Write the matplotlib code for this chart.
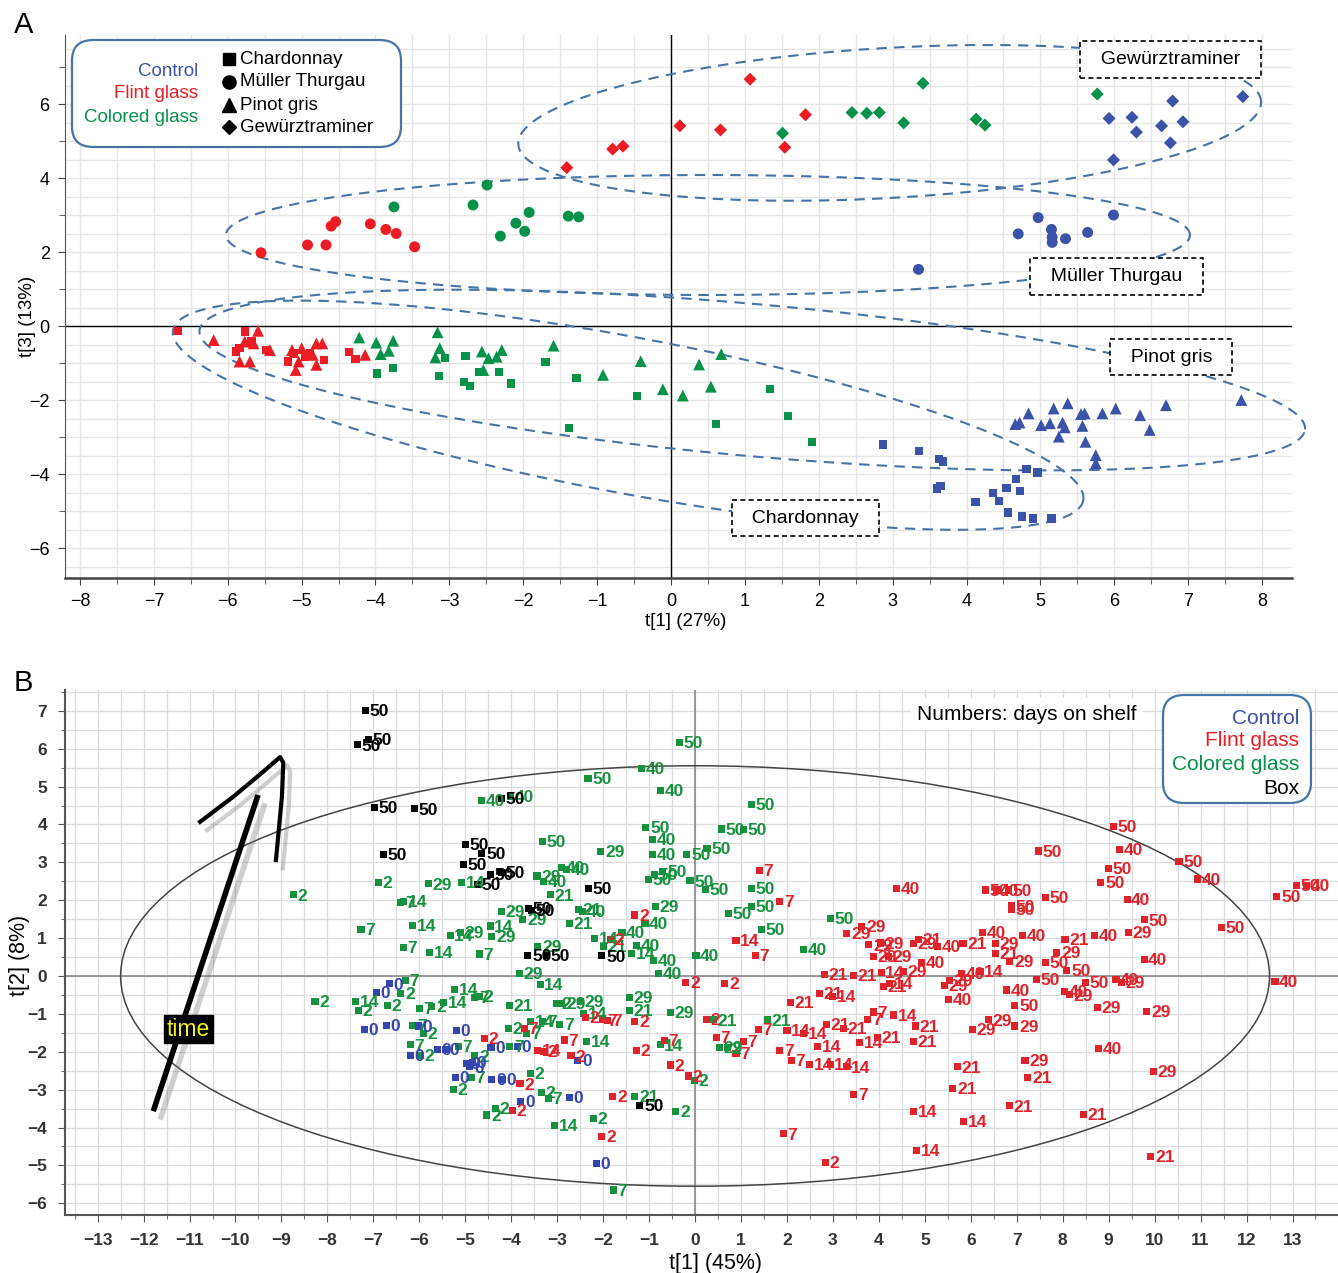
import numpy as np
import matplotlib
matplotlib.use('Agg')
import matplotlib.pyplot as plt
from matplotlib.patches import FancyBboxPatch, Ellipse
from matplotlib.lines import Line2D
from matplotlib.ticker import MultipleLocator
import matplotlib.patheffects as pe

plt.rcParams['font.family'] = ['Liberation Sans', 'DejaVu Sans']

BLUE = '#3a52a8'
RED = '#ec1c24'
GREEN = '#07924a'
ELL = '#4674a6'

# ---------------- Panel A data: (t[1], t[3]) per cultivar and treatment
chard_ctrl = [(2.87, -3.20), (3.36, -3.38), (3.63, -3.60), (3.68, -3.66), (3.60, -4.39), (3.65, -4.32),
              (4.12, -4.75), (4.36, -4.52), (4.44, -4.73), (4.56, -5.04), (4.54, -4.37), (4.67, -4.14),
              (4.72, -4.46), (4.75, -5.15), (4.81, -3.87), (4.90, -5.20), (4.96, -3.96), (5.15, -5.20)]
chard_flint = [(-6.67, -0.13), (-5.77, -0.15), (-5.89, -0.69), (-5.84, -0.60), (-5.68, -0.42), (-5.48, -0.65),
               (-5.18, -0.96), (-5.11, -0.74), (-4.95, -0.83), (-4.89, -0.74), (-4.70, -0.92), (-4.36, -0.71),
               (-4.27, -0.89)]
chard_col = [(-3.98, -1.28), (-3.76, -1.14), (-3.14, -1.35), (-3.06, -0.86), (-2.78, -0.81), (-2.80, -1.51),
             (-2.72, -1.62), (-2.59, -1.25), (-2.33, -1.25), (-2.17, -1.55), (-1.70, -0.98), (-1.28, -1.40),
             (-1.38, -2.75), (-0.46, -1.89), (0.61, -2.65), (1.34, -1.71), (1.58, -2.43), (1.91, -3.14)]

mt_ctrl = [(3.35, 1.53), (4.70, 2.49), (4.97, 2.93), (5.15, 2.61), (5.16, 2.40), (5.16, 2.26), (5.34, 2.36),
           (5.64, 2.53), (5.99, 3.00)]
mt_flint = [(-5.55, 1.98), (-4.92, 2.19), (-4.67, 2.19), (-4.60, 2.70), (-4.54, 2.82), (-4.07, 2.76),
            (-3.86, 2.61), (-3.72, 2.50), (-3.47, 2.14)]
mt_col = [(-3.75, 3.22), (-2.68, 3.27), (-2.49, 3.81), (-2.31, 2.43), (-2.10, 2.78), (-1.98, 2.56),
          (-1.92, 3.07), (-1.39, 2.97), (-1.25, 2.95)]

pg_ctrl = [(4.66, -2.65), (4.72, -2.61), (4.84, -2.36), (5.01, -2.68), (5.13, -2.63), (5.18, -2.23),
           (5.30, -2.61), (5.33, -2.74), (5.25, -2.99), (5.37, -2.09), (5.55, -2.38), (5.60, -2.36),
           (5.57, -2.70), (5.61, -3.13), (5.75, -3.49), (5.75, -3.71), (5.84, -2.36), (6.02, -2.23),
           (6.35, -2.41), (6.48, -2.81), (6.70, -2.14), (7.72, -2.00)]
pg_flint = [(-6.19, -0.38), (-5.59, -0.13), (-5.77, -0.42), (-5.65, -0.47), (-5.70, -0.96), (-5.84, -0.96),
            (-5.43, -0.65), (-5.13, -0.65), (-5.00, -0.60), (-5.04, -0.96), (-5.08, -1.19), (-4.85, -0.78),
            (-4.80, -0.47), (-4.72, -0.47), (-4.80, -1.05), (-4.14, -0.78)]
pg_col = [(-4.22, -0.31), (-3.99, -0.45), (-3.76, -0.40), (-3.82, -0.67), (-3.93, -0.76), (-3.16, -0.17),
          (-3.13, -0.60), (-3.19, -0.85), (-2.56, -0.69), (-2.47, -0.87), (-2.36, -0.83), (-2.29, -0.65),
          (-2.54, -1.19), (-1.59, -0.53), (-0.92, -1.32), (-0.41, -0.95), (-0.11, -1.71), (0.16, -1.88),
          (0.38, -1.04), (0.54, -1.64), (0.68, -0.76)]

gw_ctrl = [(5.93, 5.61), (6.24, 5.64), (6.30, 5.24), (5.99, 4.49), (6.64, 5.41), (6.79, 6.08), (6.76, 4.95),
           (6.93, 5.52), (7.74, 6.20)]
gw_flint = [(-1.41, 4.28), (-0.79, 4.78), (-0.65, 4.86), (0.12, 5.41), (0.67, 5.30), (1.07, 6.67),
            (1.54, 4.83), (1.82, 5.71)]
gw_col = [(1.51, 5.21), (2.45, 5.77), (2.65, 5.75), (2.82, 5.77), (3.15, 5.49), (3.41, 6.56), (4.13, 5.59),
          (4.25, 5.43), (5.77, 6.27)]

# cultivar ellipses: centre (data), half axes (px), tilt (deg)
ell_names = ['Gewürztraminer', 'Müller Thurgau', 'Pinot gris', 'Chardonnay']
ell_centre = [(2.96, 5.49), (0.50, 2.46), (1.10, -1.46), (-0.58, -2.41)]
ell_axes = [(372, 75), (482, 60), (555, 76), (463, 78)]
ell_tilt = [3.3, 0.0, -5.1, -10.6]
label_pos = [(6.76, 7.20), (6.03, 1.34), (6.77, -0.84), (1.82, -5.19)]

# ---------------- Panel B data: (t[1], t[2], days on shelf)
ctrl_pts = [(-6.65, -0.21, 0), (-6.93, -0.44, 0), (-7.20, -1.41, 0), (-6.72, -1.31, 0), (-6.02, -1.32, 0),
            (-6.19, -2.09, 0), (-5.61, -1.95, 0), (-5.20, -1.43, 0), (-5.44, -1.95, 0), (-4.44, -1.88, 0),
            (-3.87, -1.87, 0), (-4.97, -2.32, 0), (-4.85, -2.28, 0), (-4.90, -2.40, 0), (-5.22, -2.68, 0),
            (-4.42, -2.73, 0), (-4.20, -2.73, 0), (-3.79, -3.32, 0), (-2.74, -3.20, 0), (-2.55, -2.24, 0),
            (-2.15, -4.95, 0)]
flint_pts = [(1.40, 2.78, 7), (1.84, 1.96, 7), (-1.31, 1.61, 2), (0.89, 0.93, 14), (1.31, 0.55, 7),
             (-1.85, 0.97, 2), (3.30, 1.13, 29), (3.63, 1.30, 29), (3.78, 0.82, 29), (3.88, 0.51, 29),
             (2.81, 0.05, 21), (3.45, 0.01, 21),
             (9.10, 3.94, 50), (9.23, 3.35, 40), (8.99, 2.84, 50), (8.83, 2.46, 50), (10.53, 3.02, 50),
             (10.93, 2.56, 40), (7.47, 3.30, 50), (4.39, 2.30, 40), (6.31, 2.27, 50), (6.55, 2.27, 40),
             (6.82, 2.27, 50), (6.88, 1.85, 50), (6.88, 1.75, 50), (7.63, 2.07, 50), (9.40, 2.02, 40),
             (9.77, 1.48, 50), (11.46, 1.29, 50), (12.66, 2.11, 50), (13.09, 2.40, 50), (13.31, 2.38, 40),
             (9.43, 1.14, 29), (8.70, 1.06, 40), (8.05, 0.97, 21), (7.87, 0.62, 29), (7.63, 0.35, 50),
             (8.09, 0.14, 50), (9.77, 0.44, 40), (7.12, 1.06, 40), (6.26, 1.15, 40), (6.53, 0.86, 29),
             (6.53, 0.60, 21), (6.85, 0.38, 29), (5.83, 0.86, 21), (5.27, 0.77, 40), (4.86, 0.97, 21),
             (4.75, 0.86, 29), (4.21, 0.51, 29), (4.93, 0.35, 40), (4.53, 0.13, 29), (4.03, 0.87, 29),
             (12.62, -0.15, 40), (6.77, -0.37, 40), (7.43, -0.09, 50), (8.50, -0.18, 50), (8.03, -0.41, 40),
             (8.14, -0.50, 29), (9.16, -0.09, 40), (9.28, -0.18, 29), (5.53, -0.11, 29), (5.42, -0.24, 29),
             (5.51, -0.62, 40), (6.96, -0.77, 50), (8.75, -0.84, 29), (9.83, -0.94, 29), (6.38, -1.16, 29),
             (6.04, -1.41, 29), (6.96, -1.32, 29), (4.79, -1.32, 21), (4.75, -1.73, 21), (8.78, -1.91, 40),
             (7.18, -2.22, 29), (7.24, -2.69, 21), (5.71, -2.40, 21), (9.97, -2.53, 29), (5.61, -2.97, 21),
             (6.84, -3.43, 21), (8.45, -3.65, 21), (4.75, -3.58, 14), (5.85, -3.85, 14), (4.82, -4.60, 14),
             (9.92, -4.77, 21), (4.32, -1.03, 14), (5.80, 0.07, 40), (6.20, 0.11, 14), (4.24, -0.19, 14),
             (4.05, 0.10, 14), (4.10, -0.28, 21), (3.97, -1.62, 21), (3.88, -0.95, 7),
             (-0.20, -0.18, 2), (0.65, -0.19, 2), (2.71, -0.46, 21), (3.00, -0.53, 14), (2.07, -0.70, 21),
             (0.25, -1.14, 2), (1.38, -1.41, 7), (2.00, -1.44, 14), (2.36, -1.51, 14), (2.85, -1.28, 21),
             (3.23, -1.38, 21), (3.76, -1.14, 7), (3.58, -1.76, 14), (2.67, -1.87, 14), (0.46, -1.62, 7),
             (1.05, -1.73, 7), (0.89, -2.04, 7), (1.84, -1.97, 7), (2.09, -2.22, 7), (2.49, -2.33, 14),
             (2.94, -2.33, 14), (3.29, -2.40, 14), (-1.31, -1.19, 2), (-1.28, -1.97, 2), (-0.54, -2.35, 2),
             (-0.15, -2.64, 2), (-0.67, -1.71, 7), (3.45, -3.12, 7), (1.92, -4.17, 7), (2.83, -4.93, 2),
             (-1.79, -3.19, 2), (-2.03, -4.23, 2), (-2.70, -2.11, 2), (-2.85, -1.69, 7), (-2.38, -1.09, 2),
             (-2.01, -1.16, 7), (-4.59, -1.65, 2), (-3.81, -2.85, 2), (-3.97, -3.54, 2), (-3.71, -1.38, 7),
             (-3.43, -1.97, 14), (-3.30, -2.00, 2), (-1.90, -1.18, 7)]
colored_pts = [(-8.74, 2.14, 2), (-6.89, 2.47, 2), (-7.27, 1.23, 7), (-6.40, 1.94, 7), (-6.35, 1.97, 14),
               (-6.15, 1.33, 14), (-6.35, 0.75, 7), (-5.77, 0.63, 14), (-5.80, 2.43, 29), (-5.08, 2.47, 14),
               (-8.27, -0.68, 2), (-7.38, -0.68, 14), (-7.33, -0.90, 2), (-6.70, -0.77, 2), (-6.40, -0.46, 2),
               (-6.31, -0.11, 7), (-6.00, -0.85, 7), (-5.73, -0.81, 2), (-6.14, -1.30, 7), (-5.91, -1.51, 2),
               (-6.20, -1.82, 7), (-5.97, -2.09, 2),
               (-0.34, 6.16, 50), (-1.16, 5.47, 40), (-0.75, 4.89, 40), (-2.33, 5.21, 50), (-4.64, 4.63, 40),
               (-4.01, 4.74, 40), (1.22, 4.52, 50), (-1.07, 3.93, 50), (-0.93, 3.61, 40), (0.57, 3.88, 50),
               (1.05, 3.86, 50), (0.26, 3.37, 50), (-0.18, 3.20, 50), (-0.92, 3.20, 40), (-2.05, 3.28, 29),
               (-3.32, 3.55, 50), (-2.90, 2.86, 40), (-2.79, 2.82, 40), (-3.44, 2.64, 29), (-3.30, 2.49, 40),
               (-3.15, 2.14, 21), (-0.88, 2.67, 50), (-0.70, 2.75, 50), (-1.01, 2.54, 50), (-0.11, 2.51, 50),
               (0.22, 2.29, 50), (1.22, 2.32, 50), (1.22, 1.83, 50), (0.72, 1.66, 50), (1.45, 1.22, 50),
               (2.94, 1.51, 50), (2.36, 0.71, 40), (-0.87, 1.83, 29), (-1.09, 1.39, 40), (-1.59, 1.14, 40),
               (-1.28, 0.80, 40), (-0.91, 0.40, 40), (-0.80, 0.07, 40), (0.02, 0.55, 40), (-4.21, 1.70, 29),
               (-3.75, 1.50, 29), (-4.46, 1.32, 14), (-5.33, 1.08, 14), (-5.11, 1.14, 29), (-4.42, 1.04, 29),
               (-4.69, 0.58, 7), (-2.73, 1.39, 21), (-2.54, 1.76, 21), (-2.45, 1.70, 40), (-2.18, 1.00, 14),
               (-1.99, 0.77, 21), (-1.38, 0.60, 14), (-3.83, 0.07, 29), (-3.42, 0.77, 29),
               (-3.37, -0.22, 14), (-5.24, -0.35, 14), (-5.48, -0.70, 14), (-4.79, -0.56, 7), (-4.69, -0.55, 2),
               (-4.04, -0.78, 21), (-3.01, -0.72, 2), (-2.90, -0.72, 29), (-2.50, -0.68, 29), (-1.43, -0.57, 29),
               (-1.43, -0.90, 21), (-0.54, -0.97, 29), (0.40, -1.16, 21), (1.58, -1.16, 21), (0.53, -1.89, 29),
               (0.70, -1.90, 2), (-0.76, -1.82, 14), (-2.36, -1.72, 14), (-2.43, -0.99, 14), (-3.31, -1.21, 7),
               (-2.94, -1.29, 7), (-3.58, -1.21, 14), (-4.06, -1.38, 2), (-3.66, -1.51, 7), (-5.15, -1.85, 7),
               (-4.03, -1.85, 7), (-4.79, -2.11, 2), (-4.87, -2.68, 7), (-5.26, -2.99, 2), (-3.58, -2.57, 2),
               (-3.35, -3.08, 2), (-3.19, -3.23, 7), (-4.35, -3.50, 2), (-4.53, -3.67, 2), (-3.05, -3.95, 14),
               (-2.21, -3.76, 2), (-1.31, -3.19, 21), (-0.42, -3.58, 2), (-0.02, -2.75, 2), (-1.78, -5.65, 7)]
box_pts = [(-7.17, 7.01, 50), (-7.11, 6.25, 50), (-7.35, 6.10, 50), (-6.98, 4.46, 50), (-6.11, 4.41, 50),
           (-6.78, 3.20, 50), (-5.00, 3.48, 50), (-4.64, 3.24, 50), (-5.04, 2.95, 50), (-4.46, 2.69, 50),
           (-4.21, 2.73, 50), (-4.73, 2.42, 50), (-4.21, 4.69, 50), (-2.32, 2.30, 50), (-3.63, 1.79, 50),
           (-3.56, 1.72, 50), (-3.64, 0.55, 50), (-3.23, 0.55, 50), (-2.03, 0.53, 50), (-1.20, -3.41, 50)]

W, H = 1338, 1273
def fx(px):
    return px / W
def fy(py):
    return 1 - py / H

fig = plt.figure(figsize=(W / 100, H / 100), dpi=100)

# ======================= Panel A =======================
axA = fig.add_axes([fx(65), fy(578), fx(1292) - fx(65), fy(35) - fy(578)])
axA.set_xlim(-8.203, 8.406)
axA.set_ylim(-6.81, 7.865)
axA.xaxis.set_major_locator(MultipleLocator(1))
axA.xaxis.set_minor_locator(MultipleLocator(0.5))
axA.yaxis.set_major_locator(MultipleLocator(2))
axA.yaxis.set_minor_locator(MultipleLocator(1))
for v in np.arange(-8, 8.6, 0.5):
    axA.axvline(v, color='#e6e6e6', lw=1, zorder=0)
for v in np.arange(-6.5, 8, 0.5):
    axA.axhline(v, color='#e6e6e6', lw=1, zorder=0)
axA.axhline(0, color='k', lw=1, zorder=1)
axA.axvline(0, color='k', lw=1, zorder=1)
for s in ['top', 'right']:
    axA.spines[s].set_visible(False)
axA.spines['left'].set_color('#555555')
axA.spines['bottom'].set_color('#444444')
axA.spines['bottom'].set_linewidth(1.8)
axA.tick_params(which='major', direction='out', length=5, labelsize=13, color='#444444', pad=6)
axA.tick_params(which='minor', direction='out', length=4, color='#444444')

def ell_curve(ax, c, ab, ang):
    bb = ax.get_position()
    x0, x1 = ax.get_xlim()
    y0, y1 = ax.get_ylim()
    kx = bb.width * W / (x1 - x0)
    ky = bb.height * H / (y1 - y0)
    t = np.linspace(0, 2 * np.pi, 500)
    th = np.radians(ang)
    u = ab[0] * np.cos(t)
    v = ab[1] * np.sin(t)
    return (c[0] + (u * np.cos(th) - v * np.sin(th)) / kx,
            c[1] + (u * np.sin(th) + v * np.cos(th)) / ky)

for c, ab, ang in zip(ell_centre, ell_axes, ell_tilt):
    ex, ey = ell_curve(axA, c, ab, ang)
    axA.plot(ex, ey, color=ELL, lw=1.5, ls=(0, (5, 3.5)), zorder=2, clip_on=False)

groups = [(chard_ctrl, 's', BLUE), (chard_flint, 's', RED), (chard_col, 's', GREEN),
          (mt_ctrl, 'o', BLUE), (mt_flint, 'o', RED), (mt_col, 'o', GREEN),
          (pg_ctrl, '^', BLUE), (pg_flint, '^', RED), (pg_col, '^', GREEN),
          (gw_ctrl, 'D', BLUE), (gw_flint, 'D', RED), (gw_col, 'D', GREEN)]
msize = {'s': 36, 'o': 62, '^': 72, 'D': 44}
for pts, mk, col in groups:
    arr = np.array(pts)
    axA.scatter(arr[:, 0], arr[:, 1], marker=mk, s=msize[mk], color=col, edgecolors='none', zorder=3)

for name, (lx, ly) in zip(ell_names, label_pos):
    axA.text(lx, ly, '  ' + name + '  ', ha='center', va='center', fontsize=14, zorder=5,
             bbox=dict(boxstyle='square,pad=0.5', fc='white', ec='black', lw=1.2, ls=(0, (3, 2))))

# legend A
fig.add_artist(FancyBboxPatch((fx(72), fy(147)), fx(401) - fx(72), fy(40) - fy(147),
                              boxstyle='round,pad=0,rounding_size=0.016', transform=fig.transFigure,
                              fc='white', ec=ELL, lw=1.6, zorder=6))
for txt, col, py in [('Control', BLUE, 71), ('Flint glass', RED, 94), ('Colored glass', GREEN, 117)]:
    fig.text(fx(198), fy(py), txt, color=col, ha='right', va='center', fontsize=13.5, zorder=7)
for txt, mk, ms, py in [('Chardonnay', 's', 9, 59), ('Müller Thurgau', 'o', 9.5, 82),
                        ('Pinot gris', '^', 10, 105), ('Gewürztraminer', 'D', 7.5, 127)]:
    fig.add_artist(Line2D([fx(229)], [fy(py)], marker=mk, ms=ms, color='k', ls='none',
                          transform=fig.transFigure, zorder=7))
    fig.text(fx(240), fy(py), txt, color='k', ha='left', va='center', fontsize=13.5, zorder=7)

fig.text(fx(686), fy(622), 't[1] (27%)', ha='center', va='center', fontsize=13.5)
fig.text(fx(28), fy(316), 't[3] (13%)', ha='center', va='center', fontsize=13.5, rotation=90)
fig.text(fx(14), fy(25), 'A', ha='left', va='center', fontsize=21)

# ======================= Panel B =======================
axB = fig.add_axes([fx(65), fy(1215), 1 - fx(65), fy(690) - fy(1215)])
axB.set_xlim(-13.71, 13.99)
axB.set_ylim(-6.31, 7.55)
axB.xaxis.set_major_locator(MultipleLocator(1))
axB.xaxis.set_minor_locator(MultipleLocator(0.5))
axB.yaxis.set_major_locator(MultipleLocator(1))
axB.yaxis.set_minor_locator(MultipleLocator(0.5))
axB.grid(which='both', color='#dcdcdc', lw=0.9, zorder=0)
axB.set_axisbelow(True)
axB.axhline(0, color='#8a8a8a', lw=1.2, zorder=1)
axB.axvline(0, color='#8a8a8a', lw=1.2, zorder=1)
for s in ['top', 'right']:
    axB.spines[s].set_visible(False)
for s in ['left', 'bottom']:
    axB.spines[s].set_color('#555555')
    axB.spines[s].set_linewidth(1.5)
axB.tick_params(which='major', direction='out', length=5, labelsize=12.5, color='#555555',
                labelcolor='#333333', pad=8)
axB.tick_params(which='minor', direction='out', length=3, color='#555555')
for lab in axB.get_xticklabels() + axB.get_yticklabels():
    lab.set_fontweight('bold')

axB.add_patch(Ellipse((0, 0), 25.0, 11.1, fill=False, ec='#444444', lw=1.1, zorder=2))

for pts, col in [(colored_pts, '#16923f'), (ctrl_pts, '#3545b0'), (flint_pts, '#e0232b'), (box_pts, 'k')]:
    arr = np.array(pts)
    axB.scatter(arr[:, 0], arr[:, 1], marker='s', s=26, color=col, edgecolors='none', zorder=3)
    for x, y, d in pts:
        axB.annotate(str(int(d)), (x, y), xytext=(3, -0.8), textcoords='offset points',
                     ha='left', va='center', fontsize=12.5, fontweight='bold', color=col, zorder=4)

# time arrow
shadow = [pe.SimpleLineShadow(offset=(5, -6), shadow_color='#777777', alpha=0.35), pe.Normal()]
arrow_main = np.array([(-11.79, -3.57), (-9.51, 4.78)])
arrow_head = np.array([(-10.77, 4.07), (-10.05, 4.73), (-9.40, 5.39), (-9.03, 5.78), (-8.96, 5.63),
                       (-8.99, 4.73), (-9.12, 3.06)])
axB.plot(arrow_main[:, 0], arrow_main[:, 1], color='k', lw=4, solid_capstyle='butt', zorder=5,
         path_effects=shadow)
axB.plot(arrow_head[:, 0], arrow_head[:, 1], color='k', lw=3, solid_joinstyle='round', zorder=5,
         path_effects=shadow)
axB.text(-11.03, -1.40, 'time', color='#f2ef1a', fontsize=16.5, ha='center', va='center', zorder=6,
         bbox=dict(boxstyle='square,pad=0.12', fc='black', ec='black'))

fig.text(fx(917), fy(714), 'Numbers: days on shelf', ha='left', va='center', fontsize=15, zorder=7,
         bbox=dict(boxstyle='square,pad=0.3', fc='white', ec='none'))
fig.add_artist(FancyBboxPatch((fx(1163), fy(803)), fx(1311) - fx(1163), fy(695) - fy(803),
                              boxstyle='round,pad=0,rounding_size=0.016', transform=fig.transFigure,
                              fc='white', ec=ELL, lw=1.6, zorder=6))
for txt, col, py in [('Control', BLUE, 718), ('Flint glass', RED, 741), ('Colored glass', GREEN, 765),
                     ('Box', 'k', 788)]:
    fig.text(fx(1299), fy(py), txt, color=col, ha='right', va='center', fontsize=15, zorder=7)

fig.text(fx(716), fy(1263), 't[1] (45%)', ha='center', va='center', fontsize=15.5)
fig.text(fx(20), fy(955), 't[2] (8%)', ha='center', va='center', fontsize=15.5, rotation=90)
fig.text(fx(14), fy(683), 'B', ha='left', va='center', fontsize=21)

fig.savefig('out.png', dpi=100)
